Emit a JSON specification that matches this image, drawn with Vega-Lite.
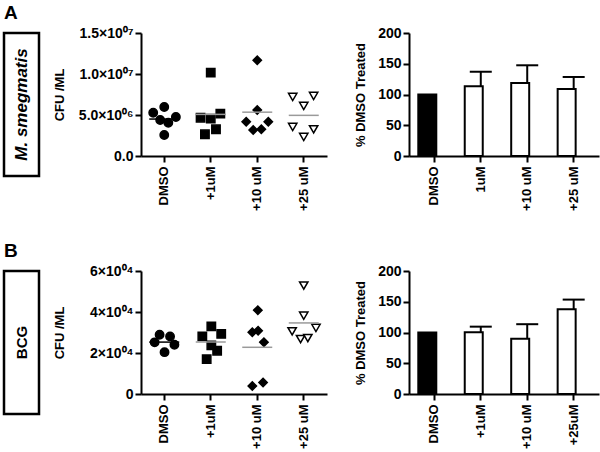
{
  "$schema": "https://vega.github.io/schema/vega-lite/v6.json",
  "background": "white",
  "padding": {"left": 2, "top": 2, "right": 2, "bottom": 2},
  "config": {
    "font": "Liberation Sans",
    "view": {"stroke": null},
    "axis": {
      "grid": false,
      "domainColor": "black", "domainWidth": 2,
      "tickColor": "black", "tickWidth": 2, "tickSize": 6,
      "labelFont": "Liberation Sans", "labelFontWeight": "bold", "labelFontSize": 13, "labelColor": "black",
      "titleFont": "Liberation Sans", "titleFontWeight": "bold", "titleFontSize": 13, "titleColor": "black"
    },
    "axisY": {"labelFontSize": 14, "labelOverlap": false},
    "title": {"font": "Liberation Sans", "fontSize": 19, "fontWeight": "bold", "anchor": "start", "color": "black", "offset": 10}
  },
  "datasets": {
    "labelA": [{"label": "M. smegmatis"}],
    "labelB": [{"label": "BCG"}],
    "scatterA": [
      {"group": "DMSO", "jitter": -1.9, "cfu": 5280000},
      {"group": "DMSO", "jitter": 0, "cfu": 5980000},
      {"group": "DMSO", "jitter": -0.7, "cfu": 4390000},
      {"group": "DMSO", "jitter": 0.7, "cfu": 4060000},
      {"group": "DMSO", "jitter": 2.0, "cfu": 4760000},
      {"group": "DMSO", "jitter": 0, "cfu": 2560000},
      {"group": "+1uM", "jitter": -1.75, "cfu": 4670000},
      {"group": "+1uM", "jitter": 0, "cfu": 10160000},
      {"group": "+1uM", "jitter": 0, "cfu": 4550000},
      {"group": "+1uM", "jitter": 1.65, "cfu": 5160000},
      {"group": "+1uM", "jitter": 0.9, "cfu": 3260000},
      {"group": "+1uM", "jitter": -1.0, "cfu": 2650000},
      {"group": "+10 uM", "jitter": 0, "cfu": 11670000},
      {"group": "+10 uM", "jitter": 0, "cfu": 5610000},
      {"group": "+10 uM", "jitter": -1.9, "cfu": 4180000},
      {"group": "+10 uM", "jitter": -0.7, "cfu": 3170000},
      {"group": "+10 uM", "jitter": 0.7, "cfu": 3260000},
      {"group": "+10 uM", "jitter": 1.9, "cfu": 4180000},
      {"group": "+25 uM", "jitter": -1.9, "cfu": 7200000},
      {"group": "+25 uM", "jitter": 0, "cfu": 6100000},
      {"group": "+25 uM", "jitter": 1.7, "cfu": 7320000},
      {"group": "+25 uM", "jitter": -1.9, "cfu": 3540000},
      {"group": "+25 uM", "jitter": 0, "cfu": 2320000},
      {"group": "+25 uM", "jitter": 1.7, "cfu": 3260000}
    ],
    "scatterB": [
      {"group": "DMSO", "jitter": -0.8, "cfu": 28900},
      {"group": "DMSO", "jitter": 1.0, "cfu": 28100},
      {"group": "DMSO", "jitter": -1.65, "cfu": 25200},
      {"group": "DMSO", "jitter": 1.75, "cfu": 24000},
      {"group": "DMSO", "jitter": 0.05, "cfu": 20400},
      {"group": "+1uM", "jitter": 0.1, "cfu": 33000},
      {"group": "+1uM", "jitter": -1.45, "cfu": 28100},
      {"group": "+1uM", "jitter": 1.8, "cfu": 29300},
      {"group": "+1uM", "jitter": 0.1, "cfu": 23700},
      {"group": "+1uM", "jitter": 1.1, "cfu": 21100},
      {"group": "+1uM", "jitter": -0.7, "cfu": 17000},
      {"group": "+10 uM", "jitter": 0.1, "cfu": 40900},
      {"group": "+10 uM", "jitter": -0.85, "cfu": 30100},
      {"group": "+10 uM", "jitter": 0.15, "cfu": 30900},
      {"group": "+10 uM", "jitter": 1.15, "cfu": 25300},
      {"group": "+10 uM", "jitter": -0.85, "cfu": 3900},
      {"group": "+10 uM", "jitter": 1.0, "cfu": 5600},
      {"group": "+25 uM", "jitter": 0, "cfu": 52900},
      {"group": "+25 uM", "jitter": 0, "cfu": 38200},
      {"group": "+25 uM", "jitter": -2.0, "cfu": 30600},
      {"group": "+25 uM", "jitter": -0.55, "cfu": 26800},
      {"group": "+25 uM", "jitter": 0.7, "cfu": 27300},
      {"group": "+25 uM", "jitter": 2.1, "cfu": 32200}
    ],
    "barA": [
      {"group": "DMSO", "pct": 100},
      {"group": "1uM", "pct": 113.5, "upper": 137},
      {"group": "+10 uM", "pct": 118.5, "upper": 147.5},
      {"group": "+25 uM", "pct": 109, "upper": 128.5}
    ],
    "barB": [
      {"group": "DMSO", "pct": 100},
      {"group": "+1uM", "pct": 100.5, "upper": 109.5},
      {"group": "+10 uM", "pct": 90, "upper": 113.5},
      {"group": "+25uM", "pct": 138, "upper": 153.5}
    ]
  },
  "bounds": "flush",
  "spacing": 238,
  "vconcat": [
    {
      "bounds": "flush",
      "spacing": 102,
      "hconcat": [
        {
          "title": {"text": "A"},
          "width": 35, "height": 143,
          "view": {"stroke": "black", "strokeWidth": 2.5},
          "data": {"name": "labelA"},
          "mark": {"type": "text", "angle": 270, "fontSize": 17, "fontWeight": "bold", "fontStyle": "italic", "font": "Liberation Sans", "color": "black"},
          "encoding": {"text": {"field": "label", "type": "nominal"}}
        },
        {
          "bounds": "flush",
          "spacing": 82,
          "hconcat": [
            {
              "width": 186, "height": 123,
              "data": {"name": "scatterA"},
              "layer": [
                {
                  "mark": {"type": "point", "filled": false, "stroke": "black", "strokeWidth": 1.5, "opacity": 1},
                  "encoding": {
                    "x": {"field": "group", "type": "nominal", "sort": ["DMSO", "+1uM", "+10 uM", "+25 uM"], "scale": {"type": "band", "paddingInner": 0, "paddingOuter": 0}, "axis": {"title": null, "labelAngle": 270, "labelPadding": 4}},
                    "xOffset": {"field": "jitter", "type": "quantitative", "scale": {"domain": [-4, 4]}},
                    "y": {"field": "cfu", "type": "quantitative", "scale": {"domain": [0, 15000000], "nice": false}, "axis": {"title": "CFU /ML", "titlePadding": 12, "values": [0, 5000000, 10000000, 15000000], "labelExpr": "datum.value == 0 ? '0.0' : datum.value == 5000000 ? '5.0\u00d710\u2070\u2076' : datum.value == 10000000 ? '1.0\u00d710\u2070\u2077' : '1.5\u00d710\u2070\u2077'"}},
                    "shape": {"field": "group", "type": "nominal", "scale": {"domain": ["DMSO", "+1uM", "+10 uM", "+25 uM"], "range": ["circle", "square", "diamond", "triangle-down"]}, "legend": null},
                    "fill": {"condition": {"test": "datum.group == '+25 uM'", "value": "white"}, "value": "black"},
                    "size": {"field": "group", "type": "nominal", "scale": {"domain": ["DMSO", "+1uM", "+10 uM", "+25 uM"], "range": [70, 70, 45, 55]}, "legend": null}
                  }
                },
                {
                  "mark": {"type": "tick", "orient": "horizontal", "size": 30, "thickness": 1.5, "opacity": 1},
                  "encoding": {
                    "x": {"field": "group", "type": "nominal", "sort": ["DMSO", "+1uM", "+10 uM", "+25 uM"]},
                    "y": {"aggregate": "mean", "field": "cfu", "type": "quantitative", "title": "CFU /ML"},
                    "color": {"condition": {"test": "datum.group == 'DMSO'", "value": "black"}, "value": "#9a9a9a"}
                  }
                }
              ]
            },
            {
              "width": 190, "height": 123,
              "data": {"name": "barA"},
              "encoding": {
                "x": {"field": "group", "type": "nominal", "sort": ["DMSO", "1uM", "+10 uM", "+25 uM"], "scale": {"paddingInner": 0.31, "paddingOuter": 0.2}, "axis": {"title": null, "labelAngle": 270, "labelPadding": 4}}
              },
              "layer": [
                {
                  "mark": {"type": "bar", "stroke": "black", "strokeWidth": 2},
                  "encoding": {
                    "y": {"field": "pct", "type": "quantitative", "scale": {"domain": [0, 200], "nice": false}, "axis": {"title": "% DMSO Treated", "titlePadding": 10, "values": [0, 50, 100, 150, 200], "labelOverlap": false}},
                    "fill": {"condition": {"test": "datum.group == 'DMSO'", "value": "black"}, "value": "white"}
                  }
                },
                {
                  "transform": [{"filter": "isValid(datum.upper)"}],
                  "mark": {"type": "rule", "color": "black", "strokeWidth": 2},
                  "encoding": {"y": {"field": "pct", "type": "quantitative", "axis": {"title": "% DMSO Treated", "titlePadding": 10, "values": [0, 50, 100, 150, 200], "labelOverlap": false}}, "y2": {"field": "upper"}}
                },
                {
                  "transform": [{"filter": "isValid(datum.upper)"}],
                  "mark": {"type": "tick", "orient": "horizontal", "size": 22, "thickness": 2, "color": "black", "opacity": 1},
                  "encoding": {"y": {"field": "upper", "type": "quantitative", "axis": {"title": "% DMSO Treated", "titlePadding": 10, "values": [0, 50, 100, 150, 200], "labelOverlap": false}}}
                }
              ]
            }
          ]
        }
      ]
    },
    {
      "bounds": "flush",
      "spacing": 102,
      "hconcat": [
        {
          "title": {"text": "B"},
          "width": 35, "height": 143,
          "view": {"stroke": "black", "strokeWidth": 2.5},
          "data": {"name": "labelB"},
          "mark": {"type": "text", "angle": 270, "fontSize": 15, "fontWeight": "bold", "font": "Liberation Sans", "color": "black"},
          "encoding": {"text": {"field": "label", "type": "nominal"}}
        },
        {
          "bounds": "flush",
          "spacing": 82,
          "hconcat": [
            {
              "width": 186, "height": 123,
              "data": {"name": "scatterB"},
              "layer": [
                {
                  "mark": {"type": "point", "filled": false, "stroke": "black", "strokeWidth": 1.5, "opacity": 1},
                  "encoding": {
                    "x": {"field": "group", "type": "nominal", "sort": ["DMSO", "+1uM", "+10 uM", "+25 uM"], "scale": {"type": "band", "paddingInner": 0, "paddingOuter": 0}, "axis": {"title": null, "labelAngle": 270, "labelPadding": 4}},
                    "xOffset": {"field": "jitter", "type": "quantitative", "scale": {"domain": [-4, 4]}},
                    "y": {"field": "cfu", "type": "quantitative", "scale": {"domain": [0, 60000], "nice": false}, "axis": {"title": "CFU /ML", "titlePadding": 23, "values": [0, 20000, 40000, 60000], "labelExpr": "datum.value == 0 ? '0' : datum.value == 20000 ? '2\u00d710\u2070\u2074' : datum.value == 40000 ? '4\u00d710\u2070\u2074' : '6\u00d710\u2070\u2074'"}},
                    "shape": {"field": "group", "type": "nominal", "scale": {"domain": ["DMSO", "+1uM", "+10 uM", "+25 uM"], "range": ["circle", "square", "diamond", "triangle-down"]}, "legend": null},
                    "fill": {"condition": {"test": "datum.group == '+25 uM'", "value": "white"}, "value": "black"},
                    "size": {"field": "group", "type": "nominal", "scale": {"domain": ["DMSO", "+1uM", "+10 uM", "+25 uM"], "range": [70, 70, 45, 55]}, "legend": null}
                  }
                },
                {
                  "mark": {"type": "tick", "orient": "horizontal", "size": 30, "thickness": 1.5, "opacity": 1},
                  "encoding": {
                    "x": {"field": "group", "type": "nominal", "sort": ["DMSO", "+1uM", "+10 uM", "+25 uM"]},
                    "y": {"aggregate": "mean", "field": "cfu", "type": "quantitative", "title": "CFU /ML"},
                    "color": {"condition": {"test": "datum.group == 'DMSO'", "value": "black"}, "value": "#9a9a9a"}
                  }
                }
              ]
            },
            {
              "width": 190, "height": 123,
              "data": {"name": "barB"},
              "encoding": {
                "x": {"field": "group", "type": "nominal", "sort": ["DMSO", "+1uM", "+10 uM", "+25uM"], "scale": {"paddingInner": 0.31, "paddingOuter": 0.2}, "axis": {"title": null, "labelAngle": 270, "labelPadding": 4}}
              },
              "layer": [
                {
                  "mark": {"type": "bar", "stroke": "black", "strokeWidth": 2},
                  "encoding": {
                    "y": {"field": "pct", "type": "quantitative", "scale": {"domain": [0, 200], "nice": false}, "axis": {"title": "% DMSO Treated", "titlePadding": 10, "values": [0, 50, 100, 150, 200], "labelOverlap": false}},
                    "fill": {"condition": {"test": "datum.group == 'DMSO'", "value": "black"}, "value": "white"}
                  }
                },
                {
                  "transform": [{"filter": "isValid(datum.upper)"}],
                  "mark": {"type": "rule", "color": "black", "strokeWidth": 2},
                  "encoding": {"y": {"field": "pct", "type": "quantitative", "axis": {"title": "% DMSO Treated", "titlePadding": 10, "values": [0, 50, 100, 150, 200], "labelOverlap": false}}, "y2": {"field": "upper"}}
                },
                {
                  "transform": [{"filter": "isValid(datum.upper)"}],
                  "mark": {"type": "tick", "orient": "horizontal", "size": 22, "thickness": 2, "color": "black", "opacity": 1},
                  "encoding": {"y": {"field": "upper", "type": "quantitative", "axis": {"title": "% DMSO Treated", "titlePadding": 10, "values": [0, 50, 100, 150, 200], "labelOverlap": false}}}
                }
              ]
            }
          ]
        }
      ]
    }
  ]
}
